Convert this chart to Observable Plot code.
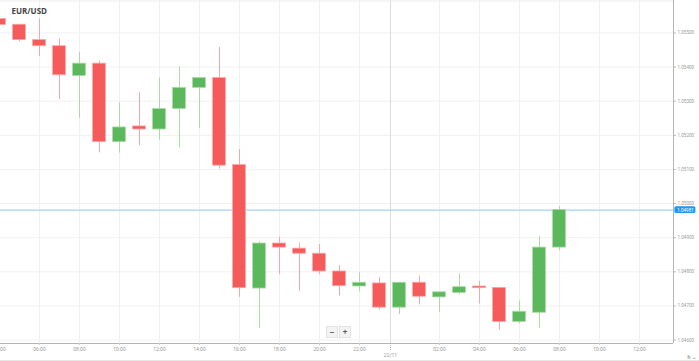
<!DOCTYPE html>
<html><head><meta charset="utf-8">
<script src="https://cdn.jsdelivr.net/npm/d3@7"></script>
<script src="https://cdn.jsdelivr.net/npm/@observablehq/plot@0.6"></script>
<style>
html,body{margin:0;padding:0;background:#fff;}
#wrap{position:relative;width:699px;height:361px;overflow:hidden;}
#zoomctl{position:absolute;left:326px;top:326px;display:flex;gap:1px;}
#zoomctl span{display:block;width:10px;height:10px;background:#f3f3f3;border:1px solid #e4e4e4;font:bold 8px/10px "Open Sans",sans-serif;color:#555;text-align:center;}
#border{position:absolute;left:0;top:360px;width:699px;height:1px;background:#e6e6e6;}
</style></head><body><div id="wrap"></div>
<script>
// hours since 21/11 00:00
const hours = [4,5,6,7,8,9,10,11,12,13,14,15,16,17,18,19,20,21,22,23,24,25,26,27,28,29,30,31,32];
const opens  = [1.05541,1.05524,1.05479,1.05461,1.05374,1.05410,1.05180,1.05226,1.05217,1.05277,1.05339,1.05368,1.05113,1.04751,1.04883,1.04868,1.04853,1.04801,1.04757,1.04766,1.04695,1.04768,1.04725,1.04738,1.04757,1.04753,1.04653,1.04680,1.04871];
const highs  = [1.05545,1.05524,1.05541,1.05482,1.05443,1.05418,1.05295,1.05325,1.05368,1.05401,1.05368,1.05457,1.05158,1.04888,1.04901,1.04884,1.04880,1.04818,1.04797,1.04783,1.04768,1.04788,1.04740,1.04794,1.04772,1.04753,1.04714,1.04903,1.04991];
const lows   = [1.05520,1.05474,1.05431,1.05305,1.05250,1.05148,1.05148,1.05170,1.05186,1.05163,1.05220,1.05101,1.04725,1.04634,1.04792,1.04743,1.04792,1.04729,1.04742,1.04688,1.04675,1.04703,1.04681,1.04733,1.04706,1.04628,1.04647,1.04634,1.04862];
const closes = [1.05523,1.05479,1.05461,1.05376,1.05410,1.05180,1.05223,1.05217,1.05277,1.05339,1.05368,1.05111,1.04752,1.04883,1.04871,1.04853,1.04801,1.04758,1.04768,1.04695,1.04768,1.04727,1.04740,1.04755,1.04752,1.04653,1.04683,1.04871,1.04981];
const currentPrice = 1.04981;
const title = "EUR/USD";

const xTicks  = [4,6,8,10,12,14,16,18,20,22,26,28,30,32,34,36];
const xLabels = ["04:00","06:00","08:00","10:00","12:00","14:00","16:00","18:00","20:00","22:00","02:00","04:00","06:00","08:00","10:00","12:00"];
const dayTick = 23.55;
const dayLabel = "22/11";
const yTicks = [1.046,1.047,1.048,1.049,1.050,1.051,1.052,1.053,1.054,1.055];

const xDomain = [4.05, 37.7];
const yDomain = [1.0459, 1.05595];

const RED = "#f65b5b", RED_W = "#f9a6a6";
const GREEN = "#5cb85c", GREEN_W = "#acd9a6";

const candles = hours.map((h,i)=>({h, open:opens[i], high:highs[i], low:lows[i], close:closes[i]}));
const up = d => d.close >= d.open;
const labelOf = new Map(xTicks.map((t,i)=>[t, xLabels[i]]));
const fmt = d3.format(".5f");
const halfW = 0.32;

const chart = Plot.plot({
  width: 699, height: 361,
  marginTop: 0, marginBottom: 18, marginLeft: 0, marginRight: 26,
  style: {fontFamily: "Roboto, sans-serif", background: "#fff"},
  x: {type: "linear", domain: xDomain, axis: null},
  y: {domain: yDomain, axis: null},
  color: {type: "identity"},
  marks: [
    Plot.gridY(yTicks, {stroke: "#f0f0f0", strokeOpacity: 1}),
    Plot.gridX(xTicks, {stroke: "#f0f0f0", strokeOpacity: 1}),
    Plot.gridX([dayTick], {stroke: "#dcdcdc", strokeOpacity: 1}),
    Plot.ruleY([yDomain[1]], {stroke: "#ececec", dy: 0.5}),
    Plot.ruleY([currentPrice], {stroke: "#a8d3f5", strokeWidth: 1.3}),
    Plot.ruleX(candles, {x: "h", y1: "low", y2: "high", stroke: d => up(d) ? GREEN_W : RED_W, strokeWidth: 1}),
    Plot.rect(candles, {x1: d => d.h - halfW, x2: d => d.h + halfW, y1: "open", y2: "close",
      fill: d => up(d) ? GREEN : RED, stroke: d => up(d) ? GREEN_W : RED_W, strokeWidth: 0.8}),
    Plot.ruleX([xDomain[1]], {stroke: "#b5b5b5"}),
    Plot.ruleY([yDomain[0]], {stroke: "#b5b5b5"}),
    Plot.axisY(yTicks, {anchor: "right", tickFormat: fmt, tickSize: 2, tickPadding: 2,
      fontSize: 4.6, fill: "#9a9a9a", stroke: "#bbb"}),
    Plot.axisX(xTicks, {tickFormat: d => labelOf.get(d), tickSize: 2, tickPadding: 2,
      fontSize: 5, fill: "#9a9a9a", stroke: "#ccc"}),
    Plot.axisX([dayTick], {tickFormat: () => dayLabel, tickSize: 8, tickPadding: 2,
      fontSize: 5, fill: "#9a9a9a", stroke: "#aaa", strokeDasharray: "1,1"}),
    Plot.rect([currentPrice], {x1: () => xDomain[1] + 0.07, x2: () => xDomain[1] + 1.12,
      y1: d => d + 0.0001, y2: d => d - 0.0001, fill: "#2196f3", rx: 1.5}),
    Plot.text([currentPrice], {x: () => xDomain[1] + 0.6, y: d => d, text: d => fmt(d),
      fill: "white", fontSize: 4.6}),
    Plot.text([title], {frameAnchor: "top-left", dx: 11, dy: 8, text: d => d, textAnchor: "start",
      lineAnchor: "top", fontWeight: "bold", fontSize: 8, fill: "#444", fontFamily: "Open Sans, sans-serif"})
  ]
});
const wrap = document.getElementById("wrap");
wrap.appendChild(chart);
const zc = document.createElement("div"); zc.id = "zoomctl";
zc.innerHTML = "<span>\u2212</span><span>+</span>";
wrap.appendChild(zc);
const b = document.createElement("div"); b.id = "border"; wrap.appendChild(b);
</script>
</body></html>
